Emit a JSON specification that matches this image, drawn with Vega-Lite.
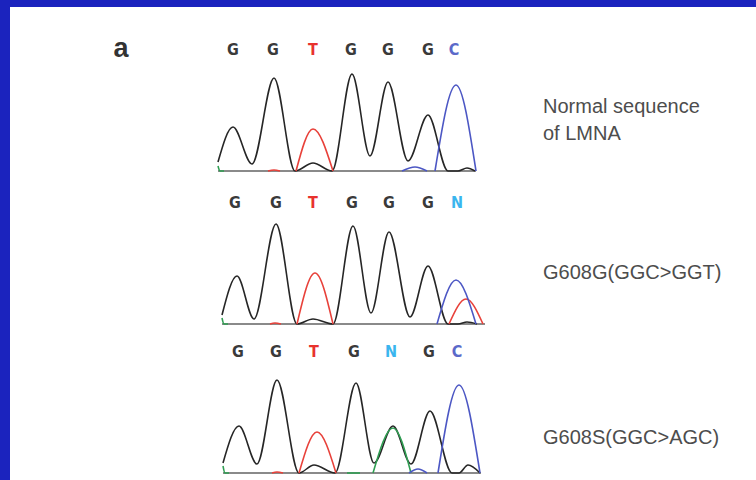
{
  "$schema": "https://vega.github.io/schema/vega-lite/v6.json",
  "background": "#1b23be",
  "padding": {"left": 10, "top": 7, "right": 0, "bottom": 0},
  "config": {"view": {"fill": "white", "stroke": null}, "concat": {"spacing": 0}},
  "datasets": {
    "traces": [
      {"r":1,"t":"1G","d":"G","x":218,"s":9},{"r":1,"t":"1G","d":"G","x":233,"s":44},{"r":1,"t":"1G","d":"G","x":252,"s":7},{"r":1,"t":"1G","d":"G","x":274,"s":93},{"r":1,"t":"1G","d":"G","x":295,"s":0},{"r":1,"t":"1G","d":"G","x":313,"s":8},{"r":1,"t":"1G","d":"G","x":332,"s":0},{"r":1,"t":"1G","d":"G","x":352,"s":97},{"r":1,"t":"1G","d":"G","x":370,"s":15},{"r":1,"t":"1G","d":"G","x":388,"s":89},{"r":1,"t":"1G","d":"G","x":408,"s":10},{"r":1,"t":"1G","d":"G","x":428,"s":56},{"r":1,"t":"1G","d":"G","x":448,"s":0},{"r":1,"t":"1G","d":"G","x":458,"s":0},{"r":1,"t":"1G","d":"G","x":467,"s":3},{"r":1,"t":"1G","d":"G","x":475,"s":0},
      {"r":1,"t":"1T","d":"T","x":296,"s":0},{"r":1,"t":"1T","d":"T","x":313,"s":42},{"r":1,"t":"1T","d":"T","x":333,"s":0},
      {"r":1,"t":"1Ts","d":"T","x":268,"s":0},{"r":1,"t":"1Ts","d":"T","x":274,"s":1},{"r":1,"t":"1Ts","d":"T","x":280,"s":0},
      {"r":1,"t":"1Cs","d":"C","x":402,"s":0},{"r":1,"t":"1Cs","d":"C","x":415,"s":4},{"r":1,"t":"1Cs","d":"C","x":427,"s":0},
      {"r":1,"t":"1C","d":"C","x":435,"s":0},{"r":1,"t":"1C","d":"C","x":456,"s":86},{"r":1,"t":"1C","d":"C","x":476,"s":0},
      {"r":1,"t":"1A","d":"A","x":218,"s":5},{"r":1,"t":"1A","d":"A","x":220,"s":0},{"r":1,"t":"1A","d":"A","x":224,"s":0},

      {"r":2,"t":"2G","d":"G","x":222,"s":9},{"r":2,"t":"2G","d":"G","x":237,"s":48},{"r":2,"t":"2G","d":"G","x":254,"s":5},{"r":2,"t":"2G","d":"G","x":276,"s":100},{"r":2,"t":"2G","d":"G","x":297,"s":0},{"r":2,"t":"2G","d":"G","x":313,"s":5},{"r":2,"t":"2G","d":"G","x":333,"s":0},{"r":2,"t":"2G","d":"G","x":353,"s":98},{"r":2,"t":"2G","d":"G","x":371,"s":11},{"r":2,"t":"2G","d":"G","x":389,"s":92},{"r":2,"t":"2G","d":"G","x":410,"s":7},{"r":2,"t":"2G","d":"G","x":428,"s":58},{"r":2,"t":"2G","d":"G","x":448,"s":0},{"r":2,"t":"2G","d":"G","x":458,"s":0},{"r":2,"t":"2G","d":"G","x":467,"s":2},{"r":2,"t":"2G","d":"G","x":477,"s":0},
      {"r":2,"t":"2T","d":"T","x":297,"s":0},{"r":2,"t":"2T","d":"T","x":315,"s":51},{"r":2,"t":"2T","d":"T","x":333,"s":0},
      {"r":2,"t":"2Ts","d":"T","x":270,"s":0},{"r":2,"t":"2Ts","d":"T","x":275,"s":1},{"r":2,"t":"2Ts","d":"T","x":281,"s":0},
      {"r":2,"t":"2T2","d":"T","x":449,"s":0},{"r":2,"t":"2T2","d":"T","x":466,"s":25},{"r":2,"t":"2T2","d":"T","x":483,"s":0},
      {"r":2,"t":"2C","d":"C","x":437,"s":0},{"r":2,"t":"2C","d":"C","x":456,"s":44},{"r":2,"t":"2C","d":"C","x":476,"s":0},
      {"r":2,"t":"2A","d":"A","x":222,"s":6},{"r":2,"t":"2A","d":"A","x":224,"s":0},{"r":2,"t":"2A","d":"A","x":228,"s":0},

      {"r":3,"t":"3G","d":"G","x":223,"s":10},{"r":3,"t":"3G","d":"G","x":239,"s":47},{"r":3,"t":"3G","d":"G","x":257,"s":9},{"r":3,"t":"3G","d":"G","x":277,"s":93},{"r":3,"t":"3G","d":"G","x":299,"s":0},{"r":3,"t":"3G","d":"G","x":314,"s":8},{"r":3,"t":"3G","d":"G","x":335,"s":0},{"r":3,"t":"3G","d":"G","x":356,"s":90},{"r":3,"t":"3G","d":"G","x":374,"s":10},{"r":3,"t":"3G","d":"G","x":393,"s":47},{"r":3,"t":"3G","d":"G","x":411,"s":9},{"r":3,"t":"3G","d":"G","x":430,"s":62},{"r":3,"t":"3G","d":"G","x":452,"s":0},{"r":3,"t":"3G","d":"G","x":459,"s":0},{"r":3,"t":"3G","d":"G","x":468,"s":8},{"r":3,"t":"3G","d":"G","x":480,"s":0},
      {"r":3,"t":"3A","d":"A","x":373,"s":0},{"r":3,"t":"3A","d":"A","x":393,"s":45},{"r":3,"t":"3A","d":"A","x":411,"s":0},
      {"r":3,"t":"3As","d":"A","x":347,"s":0},{"r":3,"t":"3As","d":"A","x":360,"s":0},
      {"r":3,"t":"3At","d":"A","x":223,"s":7},{"r":3,"t":"3At","d":"A","x":225,"s":0},{"r":3,"t":"3At","d":"A","x":229,"s":0},
      {"r":3,"t":"3T","d":"T","x":299,"s":0},{"r":3,"t":"3T","d":"T","x":317,"s":41},{"r":3,"t":"3T","d":"T","x":336,"s":0},
      {"r":3,"t":"3Ts","d":"T","x":272,"s":0},{"r":3,"t":"3Ts","d":"T","x":277,"s":1},{"r":3,"t":"3Ts","d":"T","x":283,"s":0},
      {"r":3,"t":"3Cs","d":"C","x":409,"s":0},{"r":3,"t":"3Cs","d":"C","x":418,"s":4},{"r":3,"t":"3Cs","d":"C","x":427,"s":0},
      {"r":3,"t":"3C","d":"C","x":438,"s":0},{"r":3,"t":"3C","d":"C","x":459,"s":88},{"r":3,"t":"3C","d":"C","x":480,"s":0}
    ],
    "baselines": [
      {"r":1,"x":218,"s":0},{"r":1,"x":476,"s":0},
      {"r":2,"x":222,"s":0},{"r":2,"x":485,"s":0},
      {"r":3,"x":223,"s":0},{"r":3,"x":481,"s":0}
    ],
    "calls": [
      {"r":1,"x":233,"s":121,"b":"G"},{"r":1,"x":273,"s":121,"b":"G"},{"r":1,"x":313,"s":121,"b":"T"},{"r":1,"x":351,"s":121,"b":"G"},{"r":1,"x":388,"s":121,"b":"G"},{"r":1,"x":428,"s":121,"b":"G"},{"r":1,"x":454,"s":121,"b":"C"},
      {"r":2,"x":235,"s":121,"b":"G"},{"r":2,"x":276,"s":121,"b":"G"},{"r":2,"x":313,"s":121,"b":"T"},{"r":2,"x":352,"s":121,"b":"G"},{"r":2,"x":389,"s":121,"b":"G"},{"r":2,"x":428,"s":121,"b":"G"},{"r":2,"x":457,"s":121,"b":"N"},
      {"r":3,"x":238,"s":121,"b":"G"},{"r":3,"x":276,"s":121,"b":"G"},{"r":3,"x":314,"s":121,"b":"T"},{"r":3,"x":354,"s":121,"b":"G"},{"r":3,"x":391,"s":121,"b":"N"},{"r":3,"x":429,"s":121,"b":"G"},{"r":3,"x":457,"s":121,"b":"C"}
    ],
    "labels": [
      {"r":1,"x":543,"s":64,"text":"Normal sequence"},
      {"r":1,"x":543,"s":37,"text":"of LMNA"},
      {"r":2,"x":543,"s":51,"text":"G608G(GGC>GGT)"},
      {"r":3,"x":543,"s":35,"text":"G608S(GGC>AGC)"}
    ],
    "tags": [
      {"r":1,"x":121,"s":122,"text":"a"}
    ]
  },
  "vconcat": [
    {
      "width": 746, "height": 171,
      "encoding": {
        "x": {"field": "x", "type": "quantitative", "scale": {"domain": [10, 756]}, "axis": null},
        "y": {"field": "s", "type": "quantitative", "scale": {"domain": [-7, 164]}, "axis": null}
      },
      "layer": [
        {"data": {"name": "baselines"}, "transform": [{"filter": "datum.r == 1"}], "mark": {"type": "line", "color": "#8a8a8a", "strokeWidth": 1.8}},
        {"data": {"name": "traces"}, "transform": [{"filter": "datum.r == 1"}], "mark": {"type": "line", "interpolate": "monotone", "strokeWidth": 1.6},
         "encoding": {"detail": {"field": "t"}, "color": {"field": "d", "type": "nominal", "legend": null, "scale": {"domain": ["G","A","T","C"], "range": ["#262626","#2f9e52","#e8413a","#4c57c4"]}}}},
        {"data": {"name": "calls"}, "transform": [{"filter": "datum.r == 1"}], "mark": {"type": "text", "font": "'DejaVu Sans Condensed', 'Liberation Sans Narrow', sans-serif", "fontWeight": "bold", "fontSize": 16, "baseline": "middle", "align": "center"},
         "encoding": {"text": {"field": "b"}, "color": {"field": "b", "type": "nominal", "legend": null, "scale": {"domain": ["G","T","C","N"], "range": ["#3a3a3a","#e8322d","#5b69c9","#3ab5ee"]}}}},
        {"data": {"name": "labels"}, "transform": [{"filter": "datum.r == 1"}], "mark": {"type": "text", "font": "Liberation Sans, Arial, sans-serif", "fontSize": 20, "baseline": "middle", "align": "left", "color": "#4d4d4d"},
         "encoding": {"text": {"field": "text"}}},
        {"data": {"name": "tags"}, "mark": {"type": "text", "font": "Liberation Sans, Arial, sans-serif", "fontWeight": "bold", "fontSize": 27, "baseline": "middle", "align": "center", "color": "#333333"},
         "encoding": {"text": {"field": "text"}}}
      ],
      "resolve": {"scale": {"color": "independent"}}
    },
    {
      "width": 746, "height": 153,
      "encoding": {
        "x": {"field": "x", "type": "quantitative", "scale": {"domain": [10, 756]}, "axis": null},
        "y": {"field": "s", "type": "quantitative", "scale": {"domain": [-7, 146]}, "axis": null}
      },
      "layer": [
        {"data": {"name": "baselines"}, "transform": [{"filter": "datum.r == 2"}], "mark": {"type": "line", "color": "#8a8a8a", "strokeWidth": 1.8}},
        {"data": {"name": "traces"}, "transform": [{"filter": "datum.r == 2"}], "mark": {"type": "line", "interpolate": "monotone", "strokeWidth": 1.6},
         "encoding": {"detail": {"field": "t"}, "color": {"field": "d", "type": "nominal", "legend": null, "scale": {"domain": ["G","A","T","C"], "range": ["#262626","#2f9e52","#e8413a","#4c57c4"]}}}},
        {"data": {"name": "calls"}, "transform": [{"filter": "datum.r == 2"}], "mark": {"type": "text", "font": "'DejaVu Sans Condensed', 'Liberation Sans Narrow', sans-serif", "fontWeight": "bold", "fontSize": 16, "baseline": "middle", "align": "center"},
         "encoding": {"text": {"field": "b"}, "color": {"field": "b", "type": "nominal", "legend": null, "scale": {"domain": ["G","T","C","N"], "range": ["#3a3a3a","#e8322d","#5b69c9","#3ab5ee"]}}}},
        {"data": {"name": "labels"}, "transform": [{"filter": "datum.r == 2"}], "mark": {"type": "text", "font": "Liberation Sans, Arial, sans-serif", "fontSize": 20, "baseline": "middle", "align": "left", "color": "#4d4d4d"},
         "encoding": {"text": {"field": "text"}}}
      ],
      "resolve": {"scale": {"color": "independent"}}
    },
    {
      "width": 746, "height": 149,
      "encoding": {
        "x": {"field": "x", "type": "quantitative", "scale": {"domain": [10, 756]}, "axis": null},
        "y": {"field": "s", "type": "quantitative", "scale": {"domain": [-7, 142]}, "axis": null}
      },
      "layer": [
        {"data": {"name": "baselines"}, "transform": [{"filter": "datum.r == 3"}], "mark": {"type": "line", "color": "#8a8a8a", "strokeWidth": 1.8}},
        {"data": {"name": "traces"}, "transform": [{"filter": "datum.r == 3"}], "mark": {"type": "line", "interpolate": "monotone", "strokeWidth": 1.6},
         "encoding": {"detail": {"field": "t"}, "color": {"field": "d", "type": "nominal", "legend": null, "scale": {"domain": ["G","A","T","C"], "range": ["#262626","#2f9e52","#e8413a","#4c57c4"]}}}},
        {"data": {"name": "calls"}, "transform": [{"filter": "datum.r == 3"}], "mark": {"type": "text", "font": "'DejaVu Sans Condensed', 'Liberation Sans Narrow', sans-serif", "fontWeight": "bold", "fontSize": 16, "baseline": "middle", "align": "center"},
         "encoding": {"text": {"field": "b"}, "color": {"field": "b", "type": "nominal", "legend": null, "scale": {"domain": ["G","T","C","N"], "range": ["#3a3a3a","#e8322d","#5b69c9","#3ab5ee"]}}}},
        {"data": {"name": "labels"}, "transform": [{"filter": "datum.r == 3"}], "mark": {"type": "text", "font": "Liberation Sans, Arial, sans-serif", "fontSize": 20, "baseline": "middle", "align": "left", "color": "#4d4d4d"},
         "encoding": {"text": {"field": "text"}}}
      ],
      "resolve": {"scale": {"color": "independent"}}
    }
  ],
  "resolve": {"scale": {"y": "independent"}}
}
